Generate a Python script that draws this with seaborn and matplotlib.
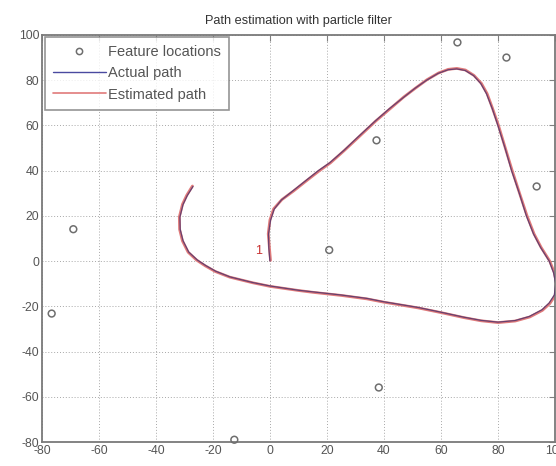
import matplotlib
matplotlib.use("Agg")
import matplotlib.pyplot as plt
from matplotlib.lines import Line2D
import seaborn as sns
import pandas as pd

# Landmark (feature) positions
feature_x = [-76.6, -69.0, -12.5, 20.8, 37.4, 38.2, 65.8, 83.0, 93.6]
feature_y = [-23.2, 14.1, -79.0, 4.9, 53.4, -55.9, 96.7, 90.0, 33.0]

# True robot trajectory
actual_x = [0.0, -0.4, -0.5, 0.2, 1.5, 4.0, 8.0, 13.0, 17.0, 21.0, 26.0, 31.0, 37.0,
            42.0, 47.0, 51.0, 55.0, 59.0, 62.5, 65.5, 68.5, 71.5, 74.0, 76.0, 78.0,
            80.0, 82.5, 84.8, 87.5, 90.0, 92.5, 95.0, 98.0, 99.5, 100.3, 99.8, 98.0,
            95.5, 91.0, 86.0, 80.0, 74.0, 68.0, 60.0, 52.0, 40.0, 34.0, 25.0, 15.0,
            10.0, 0.0, -6.0, -14.0, -19.0, -22.5, -25.5, -28.5, -30.5, -31.5, -31.6,
            -30.5, -29.0, -27.0]
actual_y = [0.0, 6.0, 12.0, 18.0, 23.0, 27.0, 31.0, 36.0, 40.0, 43.5, 49.0, 55.0, 62.0,
            67.5, 72.5, 76.5, 80.0, 83.0, 84.6, 85.0, 84.3, 82.0, 78.5, 74.0, 67.5,
            60.0, 50.0, 40.0, 30.0, 20.0, 12.0, 6.0, 0.0, -5.0, -10.0, -15.0, -18.5,
            -21.5, -24.5, -26.3, -27.0, -26.2, -24.8, -22.6, -20.5, -18.0, -16.5, -15.0,
            -13.6, -12.9, -11.0, -9.5, -7.0, -4.5, -2.0, 0.5, 4.0, 9.0, 14.0, 19.5,
            25.0, 29.0, 33.0]

# Particle filter estimate of the trajectory
est_x = [0.2, -0.2, -0.6, 0.0, 1.3, 4.2, 8.3, 13.2, 17.3, 21.2, 26.1, 31.2, 37.1,
         42.2, 47.0, 51.2, 55.1, 59.2, 62.6, 65.6, 68.6, 71.6, 74.2, 76.2, 78.1,
         80.2, 82.6, 85.0, 87.6, 90.2, 92.7, 95.2, 98.2, 99.8, 100.6, 100.1, 98.2,
         95.6, 91.2, 86.1, 80.1, 74.1, 68.1, 60.1, 52.0, 40.1, 34.0, 25.1, 15.0,
         10.0, 0.1, -6.0, -14.1, -19.2, -22.7, -25.7, -28.7, -30.7, -31.7, -31.8,
         -30.7, -29.2, -27.2]
est_y = [0.3, 6.2, 12.1, 18.2, 23.1, 27.2, 31.0, 35.9, 39.9, 43.4, 48.9, 54.9, 61.9,
         67.4, 72.6, 76.6, 80.2, 83.2, 84.8, 85.2, 84.5, 82.1, 78.6, 74.1, 67.6,
         60.0, 50.0, 40.1, 30.0, 20.1, 12.0, 6.0, 0.0, -5.1, -10.2, -15.2, -18.8,
         -21.8, -24.7, -26.5, -27.2, -26.4, -25.0, -22.8, -20.7, -18.2, -16.7, -15.2,
         -13.8, -13.0, -11.2, -9.6, -7.1, -4.6, -2.1, 0.4, 3.9, 8.9, 14.0, 19.5,
         25.1, 29.1, 33.2]

x_ticks = [-80, -60, -40, -20, 0, 20, 40, 60, 80, 100]
y_ticks = [-80, -60, -40, -20, 0, 20, 40, 60, 80, 100]

sns.set_style("white")
plt.rcParams["font.family"] = ["Liberation Sans", "DejaVu Sans"]
plt.rcParams["axes.unicode_minus"] = False

fig = plt.figure(figsize=(5.56, 4.66), dpi=100)
ax = fig.add_axes([0.0755, 0.0515, 0.9225, 0.8735])

features = pd.DataFrame({"x": feature_x, "y": feature_y})
actual = pd.DataFrame({"x": actual_x, "y": actual_y})
estimated = pd.DataFrame({"x": est_x, "y": est_y})

sns.scatterplot(data=features, x="x", y="y", ax=ax, marker="o", s=24,
                facecolor="none", edgecolor="#6e6e6e", linewidth=1.1,
                legend=False, zorder=3, clip_on=False)
sns.lineplot(data=estimated, x="x", y="y", ax=ax, sort=False, estimator=None,
             color="#e07a7a", linewidth=2.0, legend=False, zorder=2)
sns.lineplot(data=actual, x="x", y="y", ax=ax, sort=False, estimator=None,
             color="#5a3a6e", linewidth=0.9, alpha=0.9, legend=False, zorder=4)

ax.text(-4.0, 4.5, "1", color="#c83030", fontsize=9, ha="center", va="center")

ax.set_xlim(-80, 100)
ax.set_ylim(-80, 100)
ax.set_xticks(x_ticks)
ax.set_yticks(y_ticks)
ax.set_xlabel("")
ax.set_ylabel("")
ax.grid(True, linestyle=(0, (1, 2)), color="#a8a8a8", linewidth=0.7)
ax.tick_params(direction="in", top=True, right=True, length=4, width=0.8,
               color="#808080", labelcolor="#555555", labelsize=8.8, pad=2)
for sp in ax.spines.values():
    sp.set_color("#7a7a7a")
    sp.set_linewidth(1.3)

ax.set_title("Path estimation with particle filter", fontsize=9.2, color="#333333", pad=8)

handles = [
    Line2D([], [], marker="o", linestyle="none", markerfacecolor="none",
           markeredgecolor="#6e6e6e", markersize=4.5, markeredgewidth=1.1),
    Line2D([], [], color="#4a4aa0", linewidth=1.0),
    Line2D([], [], color="#e07a7a", linewidth=1.2),
]
labels = ["Feature locations", "Actual path", "Estimated path"]
leg = ax.legend(handles, labels, loc="upper left", bbox_to_anchor=(0.006, 0.995),
                borderaxespad=0, fontsize=10.5, handlelength=3.6, handletextpad=0.15,
                labelspacing=0.5, frameon=True, fancybox=False, borderpad=0.55)
leg.get_frame().set_edgecolor("#7a7a7a")
leg.get_frame().set_linewidth(1.2)
for t in leg.get_texts():
    t.set_color("#555555")

fig.savefig("out.png", dpi=100)
